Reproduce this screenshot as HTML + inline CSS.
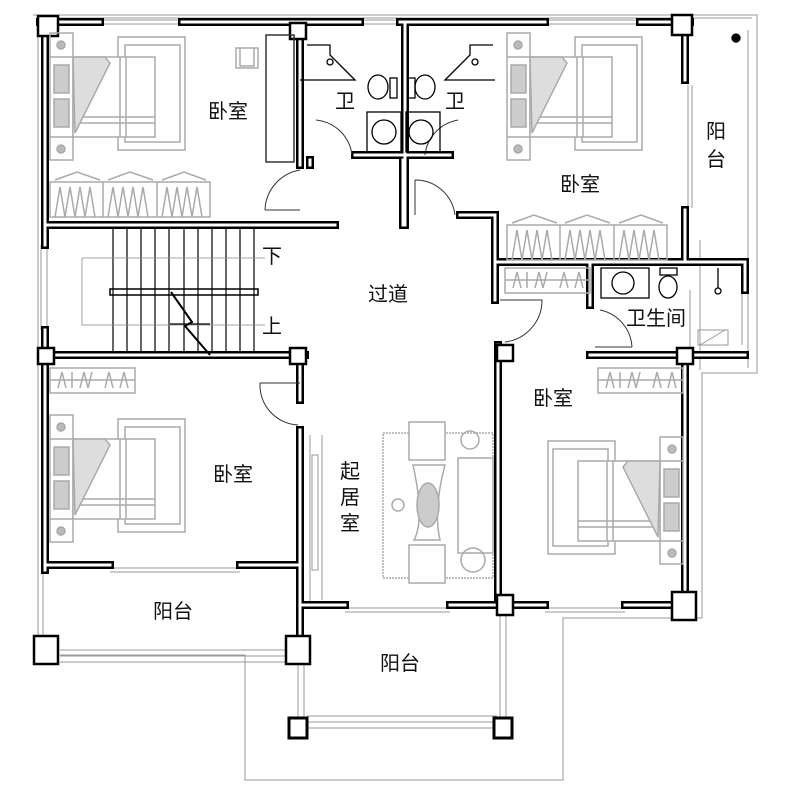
<!DOCTYPE html>
<html><head><meta charset="utf-8"><style>
html,body{margin:0;padding:0;background:#fff;}
svg{display:block;}
text{font-family:"Liberation Sans","Noto Sans CJK SC",sans-serif;font-size:20px;fill:#111;}
</style></head><body>
<svg width="789" height="793" viewBox="0 0 789 793" xmlns="http://www.w3.org/2000/svg">
<defs>
<g id="walls" fill="none" stroke-linecap="square">
<path d="M40 22 H100 M182 22 H360 M400 22 H545 M640 22 H690"/>
<path d="M45 22 V245 M45 330 V570"/>
<path d="M300 22 V165 M405 22 V225 M355 155 H450 M460 215 H495 V300"/>
<path d="M48 225 H335 M48 355 H305 M300 355 V400"/>
<path d="M685 22 V80 M685 210 V262 M495 262 H745 V290 M590 262 V305 M590 355 H745 M685 355 V605"/>
<path d="M498 345 V605 M300 430 V650 M45 565 H110 M240 565 H300"/>
<path d="M300 605 H345 M450 605 H545 M625 605 H690"/>
<path d="M310 160 V165 M403 160 V225"/>
</g>
<g id="bed" fill="none" stroke="#aaa" stroke-width="1.5">
<rect x="68" y="4" width="67" height="113"/>
<rect x="75" y="12" width="55" height="97"/>
<rect x="0" y="0" width="23" height="127"/>
<line x1="0" y1="24" x2="23" y2="24"/><line x1="0" y1="104" x2="23" y2="104"/>
<circle cx="11" cy="12" r="4" fill="#bbb"/><circle cx="11" cy="116" r="4" fill="#bbb"/>
<rect x="4" y="32" width="15" height="28" fill="#ccc"/><rect x="4" y="66" width="15" height="28" fill="#ccc"/>
<rect x="23" y="24" width="82" height="80" fill="#fff"/>
<line x1="70" y1="24" x2="70" y2="104"/><line x1="76" y1="24" x2="76" y2="104"/>
<line x1="23" y1="84" x2="105" y2="84"/><line x1="23" y1="90" x2="105" y2="90"/>
<path d="M23 24 L55 24 L60 30 L25 100 Z" fill="#ddd"/>
</g>
<g id="ward" fill="none" stroke="#aaa" stroke-width="1.5">
<rect x="0" y="10" width="160" height="35"/>
<line x1="53" y1="10" x2="53" y2="45"/><line x1="107" y1="10" x2="107" y2="45"/>
<path d="M5 45 L10 15 L15 45 L20 15 L25 45 L30 15 L35 45 L40 15 L45 45 M58 45 L63 15 L68 45 L73 15 L78 45 L83 15 L88 45 L93 15 L98 45 M112 45 L117 15 L122 45 L127 15 L132 45 L137 15 L142 45 L147 15 L152 45"/>
<path d="M5 8 L27 0 L50 8 M58 8 L80 0 L103 8 M112 8 L134 0 L156 8"/>
</g>
<g id="ward2" fill="none" stroke="#aaa" stroke-width="1.5">
<rect x="0" y="0" width="85" height="25"/>
<line x1="0" y1="12" x2="85" y2="12"/>
<path d="M8 20 L12 4 L16 20 M22 20 V4 M30 20 L34 4 L38 20 L42 4 M55 20 L59 4 L63 20 M70 20 L74 4 L78 20"/>
</g>
</defs>

<g fill="none" stroke="#999" stroke-width="1">
<path d="M33 15 H757 V373 H702 V618 H563 V780 H245 V655 H60"/>
<path d="M38 18 H752 M748 30 V368 M700 240 V370"/>
<path d="M38 18 V640 M43 570 V640"/>
<path d="M60 650 H290 M60 656 H290 M60 662 H290"/>
<path d="M307 728 H497 M307 722 H497 M307 716 H497"/>
<path d="M298 660 V718 M304 660 V718 M500 612 V718 M506 612 V718"/>
<path d="M688 85 V208 M692 85 V208"/>
<path d="M310 435 V605 M322 435 V600 M312 455 H318 V570 H312 Z"/>
<path d="M110 568 H240 M110 572 H240 M345 608 H450 M345 612 H450 M545 608 H625 M545 612 H625"/>
<path d="M100 20 H182 M100 24 H182 M360 20 H400 M360 24 H400 M545 20 H640 M545 24 H640"/>
<path d="M41 245 V330 M47 245 V330"/>
<path d="M690 290 V350 M742 290 V345"/>
<path d="M700 345 L725 330 M698 330 H728 V345 H698Z"/>
</g>

<use href="#walls" stroke="#000" stroke-width="8"/>
<use href="#walls" stroke="#fff" stroke-width="3"/>

<g fill="#fff" stroke="#000" stroke-width="2.5">
<rect x="38" y="16" width="20" height="20"/>
<rect x="290" y="23" width="16" height="16"/>
<rect x="672" y="15" width="20" height="20"/>
<rect x="38" y="348" width="16" height="16"/>
<rect x="290" y="348" width="16" height="16"/>
<rect x="497" y="345" width="16" height="16"/>
<rect x="677" y="348" width="16" height="16"/>
<rect x="34" y="636" width="24" height="28"/>
<rect x="286" y="636" width="24" height="28"/>
<rect x="497" y="595" width="16" height="20"/>
<rect x="672" y="592" width="24" height="28"/>
<rect x="289" y="718" width="18" height="20" stroke-width="3"/>
<rect x="494" y="718" width="18" height="20" stroke-width="3"/>
</g>

<g stroke="#000" stroke-width="1.2" fill="none">
<path d="M113 228 V352 M127 228 V352 M141 228 V352 M155 228 V352 M169 228 V352 M184 228 V352 M198 228 V352 M212 228 V352 M226 228 V352 M240 228 V352 M254 228 V352"/>
<rect x="110" y="289" width="148" height="6" stroke-width="1.5"/>
<path d="M82 258 H265 M82 258 V325 H265" stroke="#888" stroke-width="0.8"/>
<path d="M171 292 L192 322 L185 326 L210 355" stroke-width="2"/>
<path d="M170 324 H210"/>
</g>

<g fill="none" stroke="#333" stroke-width="1">
<path d="M265 210 A42 42 0 0 1 300 170 M265 210 H300"/>
<path d="M316 120 A40 40 0 0 1 352 155"/>
<path d="M458 120 A40 40 0 0 0 425 155"/>
<path d="M415 180 A40 40 0 0 1 455 215 M415 180 V215"/>
<path d="M500 300 H542 A42 42 0 0 1 505 342"/>
<path d="M600 310 A40 40 0 0 1 632 347 M595 347 H632"/>
<path d="M260 383 H300 M260 383 A40 40 0 0 0 298 425"/>
</g>

<g fill="none" stroke="#000" stroke-width="1.3">
<ellipse cx="378" cy="87" rx="10" ry="12"/><rect x="390" y="78" width="7" height="20"/>
<ellipse cx="425" cy="87" rx="10" ry="12"/><rect x="408" y="78" width="7" height="20"/>
<rect x="367" y="112" width="34" height="40"/><circle cx="384" cy="132" r="12"/>
<rect x="406" y="112" width="34" height="40"/><circle cx="421" cy="132" r="12"/>
<path d="M307 45 H330 V55 L355 80 H300"/>
<path d="M493 45 H470 V55 L445 80 H495"/>
<circle cx="330" cy="62" r="3"/><circle cx="475" cy="62" r="3"/>
<rect x="601" y="268" width="48" height="30"/><circle cx="623" cy="283" r="11"/>
<ellipse cx="668" cy="287" rx="9" ry="11"/><rect x="660" y="268" width="17" height="7"/>
<path d="M718 268 V288"/><circle cx="718" cy="291" r="3"/>
<circle cx="736" cy="38" r="4" fill="#000"/>
</g>

<use href="#bed" x="50" y="33"/>
<use href="#bed" x="507" y="33"/>
<use href="#bed" x="50" y="415"/>
<use href="#bed" transform="translate(683,437) scale(-1,1)"/>
<use href="#ward" x="50" y="172"/>
<use href="#ward" x="507" y="215"/>
<use href="#ward2" x="50" y="368"/>
<use href="#ward2" x="505" y="268"/>
<use href="#ward2" x="598" y="368"/>
<g fill="none" stroke="#aaa" stroke-width="1.5">
<rect x="266" y="35" width="28" height="127" stroke="#333"/>
<path d="M236 48 H258 V68 H236 Z M240 48 V66 H254 V48"/>
<rect x="383" y="433" width="110" height="145" stroke-dasharray="2 1"/>
<rect x="409" y="422" width="36" height="38" fill="#fff"/>
<rect x="409" y="545" width="36" height="38" fill="#fff"/>
<rect x="458" y="458" width="35" height="95" fill="#fff"/>
<path d="M413 465 Q425 520 414 540 H440 Q433 510 445 465 Z"/>
<ellipse cx="428" cy="505" rx="11" ry="22" fill="#ccc"/>
<circle cx="470" cy="440" r="9"/><circle cx="473" cy="560" r="12"/>
<circle cx="398" cy="505" r="6"/>
</g>

<text x="208" y="118">卧室</text>
<text x="335" y="108">卫</text>
<text x="445" y="108">卫</text>
<text x="706" y="138">阳</text>
<text x="706" y="166">台</text>
<text x="560" y="191">卧室</text>
<text x="368" y="301">过道</text>
<text x="262" y="263">下</text>
<text x="262" y="333">上</text>
<text x="626" y="325">卫生间</text>
<text x="533" y="405">卧室</text>
<text x="213" y="481">卧室</text>
<text x="340" y="478">起</text>
<text x="340" y="504">居</text>
<text x="340" y="530">室</text>
<text x="153" y="618">阳台</text>
<text x="380" y="670">阳台</text>
</svg>
</body></html>
